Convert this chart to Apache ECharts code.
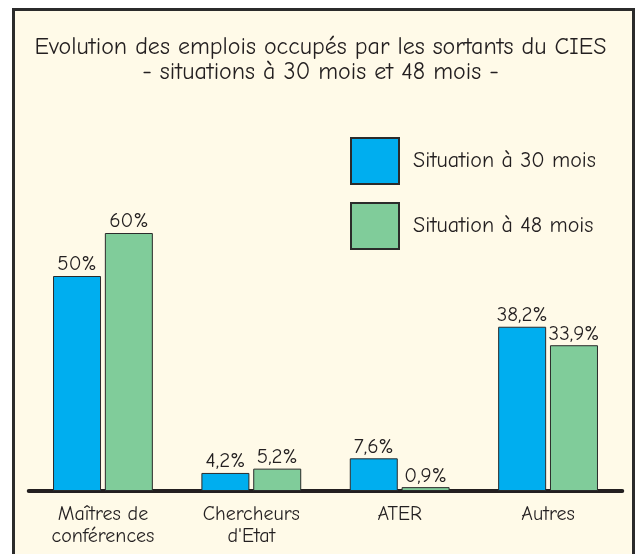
<!DOCTYPE html>
<html>
<head>
<meta charset="utf-8">
<script src="https://cdn.jsdelivr.net/npm/echarts@6/dist/echarts.min.js"></script>
<style>
  body { margin: 0; background: #fff; }
  .frame { position: absolute; left: 12px; top: 8px; width: 617px; height: 560px;
           border: 3px solid #2b2b2b; background: #fffae8; }
  #chart { position: absolute; left: 0; top: 0; width: 641px; height: 554px; }
</style>
</head>
<body>
<div class="frame"></div>
<div id="chart"></div>
<script>
// données du graphique
var categories = ['Maîtres de\nconférences', 'Chercheurs\nd\'Etat', 'ATER', 'Autres'];
var seriesNames = ['Situation à 30 mois', 'Situation à 48 mois'];
var values30 = [50, 4.2, 7.6, 38.2];
var values48 = [60, 5.2, 0.9, 33.9];

var fontFam = '"Comic Sans MS", "Comic Neue", "Noto Sans", sans-serif';

function pct(p) {
    return String(p.value).replace('.', ',') + '%';
}

var myChart = echarts.init(document.getElementById('chart'));

var barLabel = {
    show: true,
    position: 'top',
    distance: 1,
    color: '#231f20',
    fontSize: 21,
    fontFamily: fontFam,
    formatter: pct
};

var option = {
    backgroundColor: 'transparent',
    animation: false,
    title: {
        text: 'Evolution des emplois occupés par les sortants du CIES\n- situations à 30 mois et 48 mois -',
        left: 'center',
        top: 30,
        textStyle: {
            fontSize: 24,
            fontWeight: 'normal',
            lineHeight: 25,
            color: '#231f20',
            fontFamily: fontFam
        }
    },
    legend: {
        orient: 'vertical',
        left: 345,
        top: 132,
        itemWidth: 48,
        itemHeight: 46,
        itemGap: 17,
        icon: 'rect',
        data: seriesNames,
        textStyle: {
            fontSize: 22,
            color: '#231f20',
            fontFamily: fontFam,
            padding: [0, 0, 0, 9]
        }
    },
    grid: {
        left: 28.75,
        right: 18.75,
        top: 190,
        bottom: 63
    },
    xAxis: {
        type: 'category',
        data: categories,
        axisLine: { lineStyle: { color: '#231f20', width: 4 } },
        axisTick: { show: false },
        axisLabel: {
            margin: 12,
            fontSize: 20,
            lineHeight: 22,
            color: '#231f20',
            fontFamily: fontFam
        }
    },
    yAxis: {
        type: 'value',
        min: 0,
        max: 70,
        show: false,
        splitLine: { show: false }
    },
    series: [
        {
            name: seriesNames[0],
            type: 'bar',
            data: values30,
            barWidth: 48,
            barGap: '8%',
            itemStyle: { color: '#00aeef', borderColor: '#2b2b2b', borderWidth: 1 },
            label: barLabel
        },
        {
            name: seriesNames[1],
            type: 'bar',
            data: values48,
            barWidth: 48,
            itemStyle: { color: '#80cc9a', borderColor: '#2b2b2b', borderWidth: 1 },
            label: barLabel
        }
    ]
};

myChart.setOption(option);
</script>
</body>
</html>
